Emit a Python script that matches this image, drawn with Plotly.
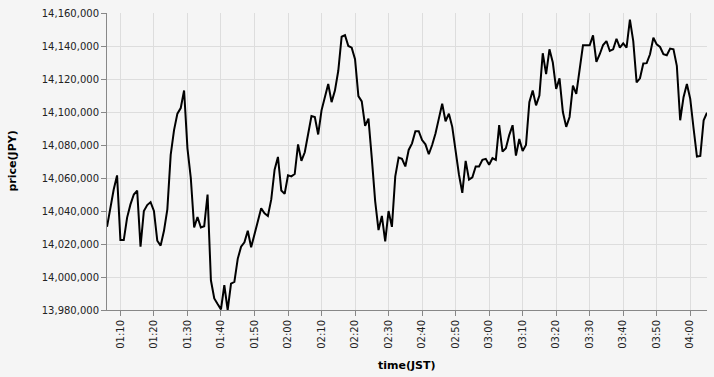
import pandas as pd
import plotly.graph_objects as go

start_time = "2024-01-01 01:06"
n_minutes = 180
prices = [
    14030400, 14042000, 14053000, 14061600, 14022400, 14022400, 14036000, 14044000, 14050000, 14052400,
    14018400, 14040000, 14043600, 14045400, 14040000, 14022000, 14019000, 14028000, 14041000, 14074000,
    14089000, 14099000, 14102400, 14113000, 14078000, 14060000, 14030000, 14036400, 14030000, 14030800,
    14050000, 13998000, 13987000, 13983600, 13980400, 13995000, 13980000, 13996000, 13997000, 14011000,
    14018400, 14021000, 14028000, 14018000, 14026000, 14035000, 14041600, 14038600, 14037000, 14047000,
    14065000, 14072800, 14052400, 14050400, 14061600, 14061000, 14062400, 14080400, 14070400, 14075600,
    14087000, 14097600, 14097000, 14086400, 14101000, 14109000, 14117000, 14106000, 14113000, 14125000,
    14145600, 14146600, 14140000, 14139000, 14132000, 14109600, 14106400, 14091600, 14096000, 14072000,
    14046000, 14028400, 14037000, 14021600, 14040000, 14030400, 14061000, 14072400, 14071600, 14067000,
    14077000, 14081000, 14088400, 14088400, 14083000, 14080400, 14074400, 14080000, 14087000, 14096000,
    14105000, 14094400, 14099000, 14091000, 14076000, 14062000, 14051000, 14070400, 14059000, 14060400,
    14067000, 14067000, 14071000, 14071600, 14068000, 14072000, 14071000, 14092000, 14076000, 14078000,
    14086000, 14092000, 14073600, 14083600, 14076400, 14080000, 14106000, 14113000, 14104000, 14110000,
    14135600, 14123000, 14138000, 14130000, 14114000, 14120400, 14100000, 14091000, 14097000, 14116000,
    14111000, 14127000, 14140400, 14140400, 14140400, 14146400, 14130400, 14135000, 14140600, 14143000,
    14137000, 14138000, 14144400, 14139000, 14141600, 14139000, 14156000, 14143000, 14118000, 14120400,
    14129400, 14129600, 14135000, 14145000, 14141000, 14139400, 14135000, 14134400, 14138400, 14138000,
    14128000, 14095000, 14109000, 14117000, 14108000, 14090000, 14073000, 14073400, 14095000, 14099600,
]
times = pd.date_range(start_time, periods=n_minutes, freq="min")

y_min, y_max, y_step = 13980000, 14160000, 20000
x_title = "time(JST)"
y_title = "price(JPY)"

BG = "#f5f5f5"
FONT = "DejaVu Sans"

fig = go.Figure(
    go.Scatter(x=times, y=prices, mode="lines",
               line=dict(color="#000000", width=2), hoverinfo="skip")
)

axis_common = dict(
    showgrid=True, gridcolor="#dddddd", gridwidth=1,
    showline=True, linecolor="#888888", linewidth=1,
    ticks="outside", ticklen=5, tickcolor="#888888", tickwidth=1,
    tickfont=dict(family=FONT, size=10, color="#222222"),
    zeroline=False,
)

fig.update_xaxes(
    **axis_common,
    type="date",
    range=[times[0], times[-1]],
    dtick=600000,
    tick0="2024-01-01 01:10",
    tickformat="%H:%M",
    tickangle=-90,
)
fig.update_yaxes(
    **axis_common,
    range=[y_min, y_max],
    dtick=y_step,
    tick0=y_min,
    tickformat=",d",
)

fig.add_annotation(text=f"<b>{y_title}</b>", xref="paper", yref="paper",
                   x=(12 - 107) / 600, y=0.5, textangle=-90, showarrow=False,
                   xanchor="center", yanchor="middle",
                   font=dict(family=FONT, size=11, color="#000000"))
fig.add_annotation(text=f"<b>{x_title}</b>", xref="paper", yref="paper",
                   x=0.5, y=(310 - 366) / 300, showarrow=False,
                   xanchor="center", yanchor="middle",
                   font=dict(family=FONT, size=11, color="#000000"))

fig.update_layout(
    width=714, height=377,
    margin=dict(l=107, r=7, t=10, b=67),
    paper_bgcolor=BG, plot_bgcolor=BG,
    showlegend=False,
)

fig.write_html("out.html", config={"displayModeBar": False})
